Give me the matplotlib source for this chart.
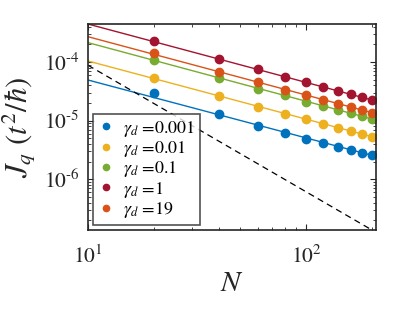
import numpy as np
import matplotlib
matplotlib.use("Agg")
import matplotlib.pyplot as plt
from matplotlib.ticker import FixedLocator, LogLocator, NullFormatter

plt.rcParams['mathtext.fontset'] = 'stix'
plt.rcParams['font.family'] = ['STIXGeneral', 'DejaVu Serif']

N = [20, 40, 60, 80, 100, 120, 140, 160, 180, 200]

labels = ["0.001", "0.01", "0.1", "1", "19"]
colors = ["#0072BD", "#EDB120", "#77AC30", "#A2142F", "#D95319"]

J_0001 = [2.92e-5, 1.30e-5, 8.1e-6, 6.08e-6, 4.87e-6, 4.21e-6, 3.60e-6, 3.16e-6, 2.85e-6, 2.56e-6]
J_001 = [5.27e-5, 2.60e-5, 1.73e-5, 1.30e-5, 1.07e-5, 8.77e-6, 7.6e-6, 6.58e-6, 5.85e-6, 5.33e-6]
J_01 = [1.07e-4, 5.34e-5, 3.51e-5, 2.70e-5, 2.11e-5, 1.78e-5, 1.52e-5, 1.33e-5, 1.19e-5, 1.07e-5]
J_1 = [2.31e-4, 1.14e-4, 7.6e-5, 5.62e-5, 4.56e-5, 3.80e-5, 3.25e-5, 2.81e-5, 2.50e-5, 2.25e-5]
J_19 = [1.41e-4, 6.84e-5, 4.56e-5, 3.37e-5, 2.70e-5, 2.25e-5, 1.95e-5, 1.69e-5, 1.52e-5, 1.37e-5]
series = [J_0001, J_001, J_01, J_1, J_19]

# fitted power-law lines, read at their end points N=10 and N=200
fit_N = [10, 200]
fit_0001 = [4.93e-5, 2.56e-6]
fit_001 = [1.04e-4, 5.33e-6]
fit_01 = [2.14e-4, 1.07e-5]
fit_1 = [4.44e-4, 2.25e-5]
fit_19 = [2.70e-4, 1.37e-5]
fits = [fit_0001, fit_001, fit_01, fit_1, fit_19]

ref_N = [10, 200]
ref_J = [8.8e-5, 1.37e-7]

fig = plt.figure(figsize=(4.15, 3.12), dpi=100)
ax = fig.add_axes([0.212, 0.263, 0.694, 0.660])

for f, c in zip(fits, colors):
    ax.plot(fit_N, f, '-', color=c, lw=1.0)
ax.plot(ref_N, ref_J, '--', color='black', lw=0.9, dashes=(5, 3.5))
handles = []
for s, c, l in zip(series, colors, labels):
    h, = ax.plot(N, s, 'o', color=c, ms=6.0, mec=c, lw=0,
                 label=r"$\gamma_d$ =" + l)
    handles.append(h)

ax.set_xscale('log')
ax.set_yscale('log')
ax.set_xlim(10, 209)
ax.set_ylim(1.37e-7, 4.44e-4)

ax.xaxis.set_major_locator(FixedLocator([10, 100]))
ax.set_xticklabels([r"$10^{1}$", r"$10^{2}$"])
ax.xaxis.set_minor_locator(LogLocator(base=10, subs=np.arange(2, 10)))
ax.xaxis.set_minor_formatter(NullFormatter())
ax.yaxis.set_major_locator(FixedLocator([1e-6, 1e-5, 1e-4]))
ax.set_yticklabels([r"$10^{\text{-}6}$", r"$10^{\text{-}5}$", r"$10^{\text{-}4}$"])
ax.yaxis.set_minor_locator(LogLocator(base=10, subs=np.arange(2, 10)))
ax.yaxis.set_minor_formatter(NullFormatter())

ax.tick_params(which='both', direction='in', top=True, right=True,
               colors='#262626', labelcolor='#262626')
ax.tick_params(which='major', length=4, width=0.8, labelsize=15.5)
ax.tick_params(axis='x', which='major', pad=11)
ax.tick_params(axis='y', which='major', pad=6)
ax.tick_params(which='minor', length=2, width=0.6)
for sp in ax.spines.values():
    sp.set_linewidth(1.2)
    sp.set_color('#262626')

ax.set_xlabel(r"$N$", fontsize=21, color='#262626', labelpad=3)
ax.set_ylabel(r"$J_q\ (t^2/\hbar)$", fontsize=22, color='#262626', labelpad=4)

leg = ax.legend(handles=handles, loc='lower left', fontsize=13,
                frameon=True, fancybox=False, edgecolor='#262626',
                borderaxespad=0.3, handlelength=0.9, handletextpad=0.5,
                labelspacing=0.02, borderpad=0.25, markerscale=0.75)
leg.get_frame().set_linewidth(1.2)

fig.savefig("out.png", dpi=100)
